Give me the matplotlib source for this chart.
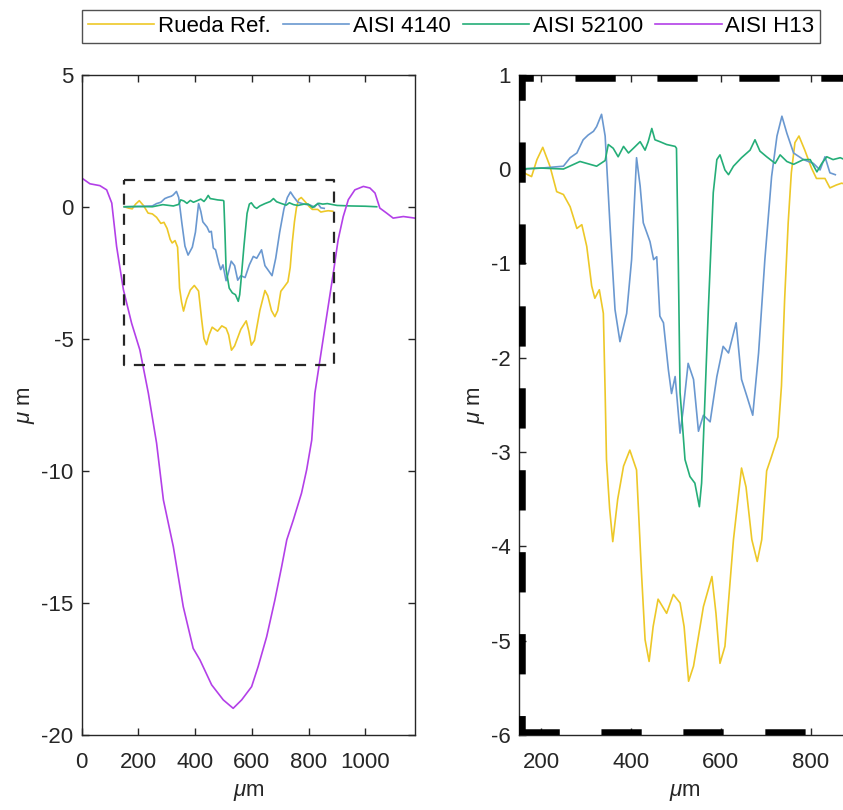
import matplotlib
matplotlib.use('Agg')
import matplotlib.pyplot as plt

plt.rcParams['font.family'] = ['Liberation Sans', 'DejaVu Sans']
plt.rcParams['mathtext.fontset'] = 'custom'
plt.rcParams['mathtext.rm'] = 'Liberation Sans'
plt.rcParams['mathtext.it'] = 'Liberation Sans:italic'
plt.rcParams['lines.scale_dashes'] = False
plt.rcParams['axes.unicode_minus'] = False

# profile data (x in um, depth in um)
rueda_x = [150, 165, 178, 190, 203, 219, 234, 249, 264, 279, 290, 301, 312, 319, 329, 338, 342,
           345, 352, 359, 370, 383, 397, 412, 423, 431, 440, 449, 460, 479, 494, 509, 518, 528,
           539, 561, 580, 589, 598, 609, 628, 646, 656, 669, 681, 691, 702, 712, 727, 735, 742,
           750, 757, 765, 774, 787, 802, 813, 832, 843, 857, 869, 885]
rueda_y = [0.0, -0.05, -0.08, 0.1, 0.23, 0.03, -0.24, -0.27, -0.40, -0.63, -0.59, -0.82, -1.24,
           -1.37, -1.28, -1.53, -2.37, -3.08, -3.6, -3.95, -3.5, -3.15, -2.98, -3.19, -4.28,
           -4.99, -5.22, -4.85, -4.56, -4.71, -4.51, -4.60, -4.85, -5.43, -5.27, -4.64, -4.32,
           -4.71, -5.24, -5.06, -3.93, -3.17, -3.37, -3.93, -4.16, -3.93, -3.2, -3.06, -2.84,
           -2.3, -1.39, -0.57, -0.04, 0.28, 0.35, 0.20, 0.01, -0.10, -0.10, -0.20, -0.17, -0.15,
           -0.17]

aisi4140_x = [150, 200, 249, 264, 279, 293, 304, 316, 323, 334, 342, 353, 364, 375, 390, 401,
              409, 412, 420, 427, 442, 450, 457, 464, 472, 483, 490, 498, 509, 516, 527, 539,
              550, 561, 576, 591, 605, 617, 634, 646, 658, 671, 684, 698, 713, 725, 736, 747,
              762, 784, 806, 821, 832, 843, 855]
aisi4140_y = [0.0, 0.01, 0.03, 0.12, 0.17, 0.31, 0.36, 0.40, 0.45, 0.58, 0.35, -0.61, -1.49,
              -1.83, -1.53, -0.96, -0.18, 0.12, -0.18, -0.57, -0.77, -0.96, -0.93, -1.56, -1.63,
              -2.13, -2.38, -2.20, -2.80, -2.55, -2.06, -2.23, -2.78, -2.61, -2.68, -2.20,
              -1.88, -1.95, -1.63, -2.23, -2.41, -2.61, -1.95, -0.96, -0.08, 0.35, 0.56, 0.38,
              0.17, 0.10, 0.06, -0.01, 0.13, -0.04, -0.06]

aisi52100_x = [150, 200, 249, 286, 323, 342, 349, 360, 371, 383, 394, 405, 420, 431, 438, 446,
               453, 464, 479, 498, 501, 505, 509, 520, 531, 542, 552, 557, 561, 572, 583, 591,
               598, 609, 617, 628, 646, 665, 676, 687, 702, 721, 732, 747, 762, 784, 799, 814,
               825, 836, 850, 866, 900, 950, 1000, 1040]
aisi52100_y = [0.0, 0.01, 0.0, 0.08, 0.03, 0.09, 0.26, 0.22, 0.13, 0.24, 0.17, 0.22, 0.29, 0.20,
               0.29, 0.43, 0.31, 0.29, 0.26, 0.24, 0.22, -0.96, -2.37, -3.08, -3.26, -3.33,
               -3.58, -3.33, -2.87, -1.49, -0.25, 0.10, 0.15, -0.01, -0.06, 0.03, 0.12, 0.20,
               0.31, 0.19, 0.13, 0.06, 0.15, 0.08, 0.05, 0.10, 0.10, -0.03, 0.06, 0.13, 0.10,
               0.12, 0.05, 0.03, 0.02, 0.0]

h13_x = [0, 29, 64, 88, 106, 123, 147, 176, 205, 235, 264, 288, 323, 358, 393, 417, 458, 499,
         534, 564, 599, 622, 652, 681, 705, 723, 746, 775, 793, 811, 822, 858, 887, 904, 922,
         940, 963, 993, 1016, 1034, 1051, 1075, 1098, 1134, 1175]
h13_y = [1.09, 0.87, 0.80, 0.64, 0.14, -1.50, -3.14, -4.41, -5.42, -7.06, -8.95, -11.1, -12.87,
         -15.14, -16.72, -17.16, -18.1, -18.67, -18.99, -18.67, -18.17, -17.41, -16.28, -14.89,
         -13.62, -12.61, -11.86, -10.84, -9.96, -8.83, -7.06, -4.53, -2.51, -1.25, -0.37, 0.27,
         0.64, 0.77, 0.71, 0.52, -0.05, -0.24, -0.43, -0.37, -0.43]

labels = ['Rueda Ref.', 'AISI 4140', 'AISI 52100', 'AISI H13']
colors = ['#EDC828', '#6A98D0', '#25AE78', '#B340E8']

# zoom box shown on the left panel
box_x = [150, 890]
box_y = [-6, 1]

left_xticks = [0, 200, 400, 600, 800, 1000]
left_yticks = [5, 0, -5, -10, -15, -20]
right_xticks = [200, 400, 600, 800]
right_yticks = [1, 0, -1, -2, -3, -4, -5, -6]

W, H = 843, 810
fig = plt.figure(figsize=(W / 100, H / 100), dpi=100)

ax1 = fig.add_axes([81.7 / W, 1 - 735 / H, (415 - 81.7) / W, (735 - 74.7) / H])
ax2 = fig.add_axes([519 / W, 1 - 735 / H, (851 - 519) / W, (735 - 74.7) / H])

series = [(rueda_x, rueda_y), (aisi4140_x, aisi4140_y), (aisi52100_x, aisi52100_y)]

handles = []
for (xs, ys), c, lab in zip(series, colors[:3], labels[:3]):
    h, = ax1.plot(xs, ys, color=c, lw=1.2, label=lab)
    handles.append(h)
    ax2.plot(xs, ys, color=c, lw=1.2)
h, = ax1.plot(h13_x, h13_y, color=colors[3], lw=1.2, label=labels[3])
handles.append(h)

# dashed zoom box (left)
rx = [box_x[0], box_x[1], box_x[1], box_x[0], box_x[0]]
ry = [box_y[1], box_y[1], box_y[0], box_y[0], box_y[1]]
ax1.plot(rx, ry, color='#262626', lw=1.6, linestyle=(0, (8, 6.5)), zorder=5)

# same box on the right panel: thick dashes along its frame
ax2.plot([box_x[0], box_x[1]], [box_y[0], box_y[0]], color='k', lw=9,
         linestyle=(0, (29, 30)), solid_capstyle='butt', zorder=5)
ax2.plot([box_x[0], box_x[0]], [box_y[1], box_y[0]], color='k', lw=9,
         linestyle=(10.8, (29, 30)), solid_capstyle='butt', zorder=5)
ax2.plot([box_x[0], box_x[1]], [box_y[1], box_y[1]], color='k', lw=9,
         linestyle=(18.7, (29, 30)), solid_capstyle='butt', zorder=5)
ax2.plot([box_x[1], box_x[1]], [box_y[1], box_y[0]], color='k', lw=9,
         linestyle=(0, (29, 30)), solid_capstyle='butt', zorder=5)

ax1.set_xlim(0, 1175)
ax1.set_ylim(-20, 5)
ax1.set_xticks(left_xticks)
ax1.set_yticks(left_yticks)
ax2.set_xlim(box_x)
ax2.set_ylim(box_y[0], box_y[1])
ax2.set_xticks(right_xticks)
ax2.set_yticks(right_yticks)

for ax in (ax1, ax2):
    for s in ax.spines.values():
        s.set_color('#262626')
        s.set_linewidth(1.0)
    ax.tick_params(direction='in', top=True, right=True, length=5, width=1.0,
                   labelsize=16, colors='#262626', labelcolor='#262626')
    ax.tick_params(axis='x', pad=12.5)
    ax.tick_params(axis='y', pad=6)
    ax.set_xlabel(r'$\mu$m', fontsize=16, color='#262626', labelpad=6)
    ax.set_ylabel(r'$\mu$ m', fontsize=16, color='#262626', labelpad=3)

leg = fig.legend(handles, labels, loc='center', bbox_to_anchor=(451 / W, 1 - 26.5 / H),
                 ncol=4, fontsize=16, frameon=True, fancybox=False, handlelength=3.0,
                 handletextpad=0.15, columnspacing=0.55, borderpad=0.25, borderaxespad=0)
leg.get_frame().set_edgecolor('#262626')
leg.get_frame().set_linewidth(1.0)

fig.savefig('out.png', dpi=100)
